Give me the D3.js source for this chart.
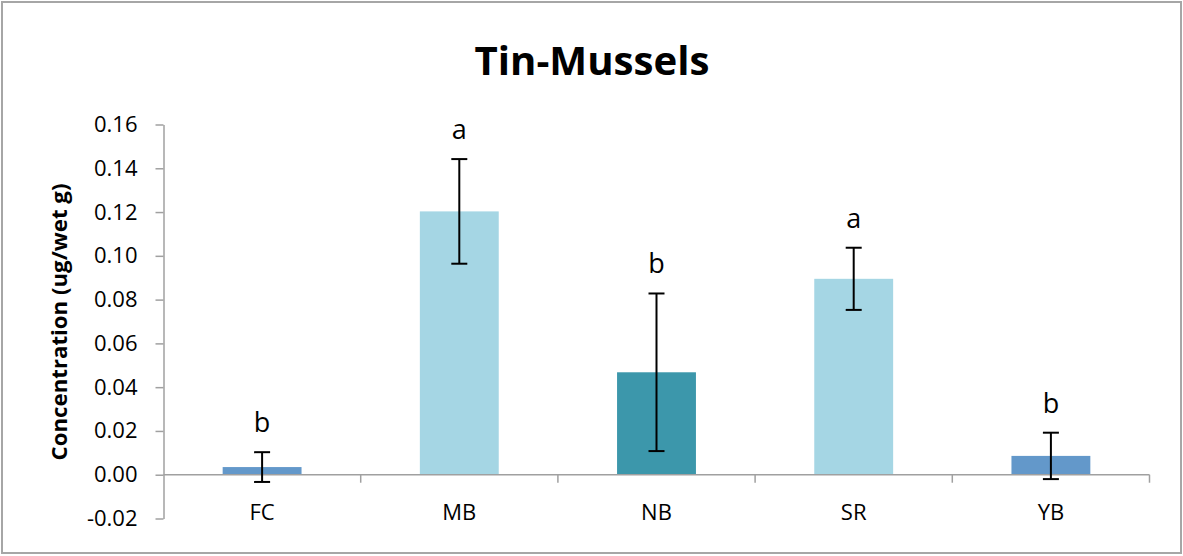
<!DOCTYPE html>
<html><head><meta charset="utf-8">
<script src="https://cdn.jsdelivr.net/npm/d3@7"></script>
<style>body{margin:0;background:#fff}svg{display:block}</style>
</head><body>
<svg id="c" width="1183" height="556"></svg>
<script>
const categories = ["FC","MB","NB","SR","YB"];
const means = [0.0035, 0.1203, 0.0468, 0.0895, 0.0086];
const errors = [0.0068, 0.0239, 0.0360, 0.0142, 0.0106];
const letters = ["b","a","b","a","b"];
const barColors = ["#6398ca","#a5d6e4","#3c97ab","#a5d6e4","#6398ca"];
const yTicks = [-0.02,0,0.02,0.04,0.06,0.08,0.10,0.12,0.14,0.16];
const title = "Tin-Mussels";
const yTitle = "Concentration (ug/wet g)";

const svg = d3.select("#c");
const font = "'Open Sans', 'Liberation Sans', sans-serif";
svg.append("rect").attr("x",2).attr("y",2).attr("width",1179).attr("height",551)
  .attr("fill","#fff").attr("stroke","#a6a6a6").attr("stroke-width",2);

const x = d3.scaleBand().domain(categories).range([163.5,1149.5]).paddingInner(0.6).paddingOuter(0.3);
const y = d3.scaleLinear().domain([-0.02,0.16]).range([518.5,124.5]);

// y axis
const fmt = d3.format(".2f");
const yAx = svg.append("g").attr("transform","translate(163.5,0)")
  .call(d3.axisLeft(y).tickValues(yTicks).tickSize(8).tickSizeOuter(0)
    .tickFormat(d => fmt(d).replace("\u2212","-")));
yAx.select(".domain").attr("stroke","#a0a0a0").attr("stroke-width",1.5);
yAx.selectAll(".tick line").attr("stroke","#a0a0a0").attr("stroke-width",1.5);
yAx.selectAll(".tick text").attr("font-family",font).attr("font-size",22).attr("fill","#000").attr("x",-26);

// x axis at zero
const xBounds = d3.range(categories.length+1).map(i => 163.5 + i*(986/categories.length));
const xg = svg.append("g");
xg.selectAll("line.t").data(xBounds.slice(1)).join("line").attr("class","t")
  .attr("x1",d=>d).attr("x2",d=>d).attr("y1",y(0)).attr("y2",y(0)+8)
  .attr("stroke","#a0a0a0").attr("stroke-width",1.5);

// bars
svg.append("g").selectAll("rect").data(categories).join("rect")
  .attr("x",d=>x(d)).attr("width",x.bandwidth())
  .attr("y",(d,i)=>y(Math.max(0,means[i])))
  .attr("height",(d,i)=>Math.abs(y(means[i])-y(0)))
  .attr("fill",(d,i)=>barColors[i]);
// zero line over bars
svg.append("line").attr("x1",163.5).attr("x2",1149.5).attr("y1",y(0)).attr("y2",y(0))
  .attr("stroke","#a0a0a0").attr("stroke-width",1.5);

// error bars
const eg = svg.append("g").attr("stroke","#000").attr("stroke-width",2);
categories.forEach((c,i)=>{
  const cx = x(c)+x.bandwidth()/2;
  const hi = y(means[i]+errors[i]), lo = y(means[i]-errors[i]);
  eg.append("line").attr("x1",cx).attr("x2",cx).attr("y1",hi).attr("y2",lo);
  eg.append("line").attr("x1",cx-8).attr("x2",cx+8).attr("y1",hi).attr("y2",hi);
  eg.append("line").attr("x1",cx-8).attr("x2",cx+8).attr("y1",lo).attr("y2",lo);
});

// significance letters
svg.append("g").selectAll("text").data(categories).join("text")
  .attr("x",d=>x(d)+x.bandwidth()/2)
  .attr("y",(d,i)=>y(means[i]+errors[i])-20)
  .attr("text-anchor","middle").attr("font-family",font).attr("font-size",27).attr("fill","#000")
  .text((d,i)=>letters[i]);

// category labels
svg.append("g").selectAll("text").data(categories).join("text")
  .attr("x",d=>x(d)+x.bandwidth()/2).attr("y",520)
  .attr("text-anchor","middle").attr("font-family",font).attr("font-size",22).attr("fill","#000")
  .text(d=>d);

// title
const t = svg.append("text").attr("x",592).attr("y",75).attr("text-anchor","middle")
  .attr("font-family",font).attr("font-weight","bold").attr("font-size",40).attr("fill","#000").text(title);
const tw = t.node().getComputedTextLength();
t.attr("font-size", 40*235/tw);

// y title
const yt = svg.append("text").attr("transform","translate(67,322) rotate(-90)").attr("text-anchor","middle")
  .attr("font-family",font).attr("font-weight","bold").attr("font-size",18).attr("fill","#000").text(yTitle);
const yw = yt.node().getComputedTextLength();
yt.attr("font-size", 18*277/yw);
</script>
</body></html>
